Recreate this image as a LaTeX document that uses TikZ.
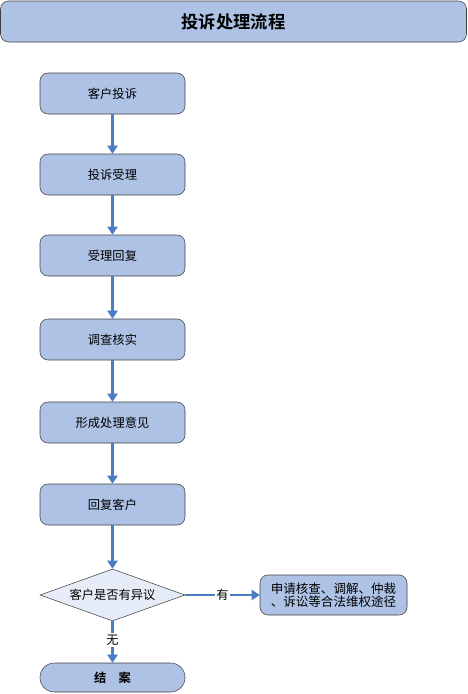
\documentclass[tikz,border=0pt]{standalone}
\usepackage{fontspec}
\setmainfont{Noto Sans CJK SC}[BoldFont={Noto Sans CJK SC Bold}]
\usetikzlibrary{arrows.meta,shapes.geometric}

\definecolor{boxblue}{RGB}{173,194,228}
\definecolor{paleblue}{RGB}{230,236,247}
\definecolor{arrowblue}{RGB}{74,125,196}
\definecolor{edge}{RGB}{64,64,64}

\tikzset{
  step box/.style={draw=edge,fill=boxblue,rounded corners=6pt,minimum width=108.75pt,
    minimum height=30.75pt,inner sep=0pt,font=\fontsize{9.2}{10}\selectfont},
  flow/.style={draw=arrowblue,line width=2pt,-{Triangle[width=7.5pt,length=6pt]}}
}

\begin{document}
\begin{tikzpicture}[x=0.75pt,y=-0.75pt]
\useasboundingbox (0,0) rectangle (468,694);

%title
\node (title) at (233.5,21.5) [draw=edge,fill=boxblue,rounded corners=6pt,minimum width=349.5pt,
  minimum height=30.75pt,font=\fontsize{13}{14}\selectfont\bfseries] {投诉处理流程};

%steps
\node (s1) at (112.5,93.5) [step box] {客户投诉};
\node (s2) at (112.5,174.5) [step box] {投诉受理};
\node (s3) at (112.5,255.5) [step box] {受理回复};
\node (s4) at (112.5,339.5) [step box] {调查核实};
\node (s5) at (112.5,422.5) [step box] {形成处理意见};
\node (s6) at (112.5,504.5) [step box] {回复客户};

%decision
\node (ask) at (112.5,595) [diamond,draw=edge,fill=paleblue,aspect=2.8,inner sep=0pt,
  minimum width=108.75pt,minimum height=39pt,font=\fontsize{9.2}{10}\selectfont] {客户是否有异议};
\node (law) at (333.5,595) [step box,minimum width=110.25pt,minimum height=30pt,
  align=center,font=\fontsize{9.4}{9.6}\selectfont] {申请核查、调解、仲裁\\、诉讼等合法维权途径};
\node (done) at (112.5,677.5) [step box,minimum height=21.75pt,rounded corners=10.8pt,
  font=\fontsize{9.2}{10}\selectfont\bfseries] {结\hspace{1em}案};

%arrows
\draw[flow] (s1) -- (s2);
\draw[flow] (s2) -- (s3);
\draw[flow] (s3) -- (s4);
\draw[flow] (s4) -- (s5);
\draw[flow] (s5) -- (s6);
\draw[flow] (s6) -- (ask);
\draw[flow] (ask) -- node[fill=white,inner sep=1pt,font=\fontsize{9.2}{10}\selectfont] {有} (law);
\draw[flow] (ask) -- node[fill=white,inner sep=1pt,pos=0.45,font=\fontsize{9.2}{10}\selectfont] {无} (done);
\end{tikzpicture}
\end{document}
